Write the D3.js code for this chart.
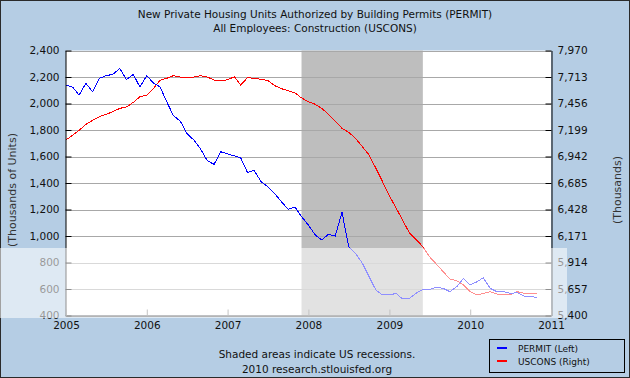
<!DOCTYPE html>
<html>
<head>
<meta charset="utf-8">
<script src="https://cdn.jsdelivr.net/npm/d3@7"></script>
<style>
  body { margin: 0; }
  svg { display: block; font-family: "DejaVu Sans", Verdana, sans-serif; }
</style>
</head>
<body>
<div id="chart"></div>
<script>
// chart size
const width = 630;
const height = 378;

// monthly series, starting Jan 2005
const startMonth = new Date(2005, 0, 1);

// PERMIT, thousands of units (left axis)
const permit = [
  2140, 2122, 2064, 2152, 2089, 2190, 2210, 2220, 2265, 2180, 2220, 2124,
  2210, 2152, 2127, 2014, 1908, 1868, 1775, 1725, 1657, 1568, 1541, 1636,
  1619, 1604, 1591, 1478, 1496, 1410, 1372, 1322, 1259, 1202, 1219, 1146,
  1083, 1008, 970, 1013, 1000, 1179, 919, 869, 794, 693, 592, 555,
  555, 567, 525, 530, 567, 597, 597, 613, 605, 580, 617, 678,
  630, 655, 685, 605, 580, 580, 567, 572, 547, 547, 530
];

// USCONS, thousands (right axis)
const uscons = [
  7102, 7151, 7196, 7254, 7293, 7328, 7351, 7377, 7409, 7422, 7467, 7522,
  7538, 7603, 7681, 7700, 7726, 7713, 7707, 7713, 7726, 7713, 7684, 7674,
  7687, 7716, 7635, 7707, 7700, 7690, 7680, 7630, 7600, 7580, 7560, 7510,
  7474, 7448, 7409, 7351, 7286, 7215, 7177, 7118, 7037, 6957, 6827, 6698,
  6560, 6440, 6326, 6203, 6139, 6067, 5970, 5899, 5825, 5754, 5738, 5696,
  5631, 5599, 5615, 5631, 5609, 5599, 5599, 5631, 5615, 5615, 5615
];

const leftTicks = [400, 600, 800, 1000, 1200, 1400, 1600, 1800, 2000, 2200, 2400];
const rightTicks = [5400, 5657, 5914, 6171, 6428, 6685, 6942, 7199, 7456, 7713, 7970];
const yearTicks = [2005, 2006, 2007, 2008, 2009, 2010, 2011];
const recession = [new Date(2007, 11, 1), new Date(2009, 5, 1)];

const titleLines = [
  "New Private Housing Units Authorized by Building Permits (PERMIT)",
  "All Employees: Construction (USCONS)"
];
const noteLines = ["Shaded areas indicate US recessions.", "2010 research.stlouisfed.org"];
const legendItems = [
  { label: "PERMIT (Left)", color: "#0000ff" },
  { label: "USCONS (Right)", color: "#ff0000" }
];

const monthDate = i => new Date(startMonth.getFullYear(), startMonth.getMonth() + i, 1);

// plot area
const plotLeft = 66, plotRight = 551, plotTop = 50.5, plotBottom = 315.5;

const x = d3.scaleTime()
    .domain([new Date(2005, 0, 1), new Date(2011, 0, 1)])
    .range([plotLeft, plotRight]);

const yLeft = d3.scaleLinear().domain([400, 2400]).range([plotBottom, plotTop]);
const yRight = d3.scaleLinear().domain([5400, 7970]).range([plotBottom, plotTop]);

const svg = d3.select("#chart")
    .append("svg").attr("width", width).attr("height", height);

// blue background + frame
svg.append("rect")
    .attr("x", 0.5).attr("y", 0.5)
    .attr("width", width - 1).attr("height", height - 1)
    .attr("fill", "#b5cde4")
    .attr("stroke", "#2a2a2a");

// plot area
svg.append("rect")
    .attr("x", plotLeft).attr("y", plotTop)
    .attr("width", plotRight - plotLeft).attr("height", plotBottom - plotTop)
    .attr("fill", "white");

// recession shade
svg.append("rect")
    .attr("x", x(recession[0]))
    .attr("y", plotTop)
    .attr("width", x(recession[1]) - x(recession[0]))
    .attr("height", plotBottom - plotTop)
    .attr("fill", "#bebebe");

// horizontal grid
svg.append("g")
    .selectAll("line")
    .data(leftTicks)
    .join("line")
    .attr("x1", plotLeft).attr("x2", plotRight)
    .attr("y1", d => Math.round(yLeft(d)) + 0.5)
    .attr("y2", d => Math.round(yLeft(d)) + 0.5)
    .attr("stroke", "#a8a8a8")
    .attr("shape-rendering", "crispEdges");

// series lines
const permitLine = d3.line()
    .x((d, i) => x(monthDate(i)))
    .y(d => yLeft(d));

const usconsLine = d3.line()
    .x((d, i) => x(monthDate(i)))
    .y(d => yRight(d));

svg.append("path")
    .attr("d", usconsLine(uscons))
    .attr("fill", "none")
    .attr("stroke", "#ff0000")
    .attr("stroke-width", 1)
    .attr("shape-rendering", "crispEdges");

svg.append("path")
    .attr("d", permitLine(permit))
    .attr("fill", "none")
    .attr("stroke", "#0000ff")
    .attr("stroke-width", 1)
    .attr("shape-rendering", "crispEdges");

// left axis
const leftAxis = svg.append("g")
    .attr("transform", `translate(${plotLeft - 0.5},0)`)
    .call(d3.axisLeft(yLeft).tickValues(leftTicks).tickFormat(d3.format(",")).tickSizeInner(-6).tickSizeOuter(0).tickPadding(6));

// right axis
const rightAxis = svg.append("g")
    .attr("transform", `translate(${plotRight + 0.5},0)`)
    .call(d3.axisRight(yRight).tickValues(rightTicks).tickFormat(d3.format(",")).tickSizeInner(-6).tickSizeOuter(0).tickPadding(6));

// bottom axis
const bottomAxis = svg.append("g")
    .attr("transform", `translate(0,${plotBottom})`)
    .call(d3.axisBottom(x).tickValues(yearTicks.map(y => new Date(y, 0, 1)))
        .tickFormat(d3.timeFormat("%Y")).tickSizeInner(-6).tickSizeOuter(0).tickPadding(6));

[leftAxis, rightAxis, bottomAxis].forEach(g => {
  g.select(".domain").attr("stroke", "black");
  g.selectAll(".tick line").attr("stroke", "black");
  g.selectAll("text")
      .attr("font-family", "\"DejaVu Sans\", Verdana, sans-serif")
      .attr("font-size", "10.5px")
      .attr("fill", "#111");
});
bottomAxis.selectAll(".tick line").attr("stroke", "#777");

// translucent white band (photo overlay in the source image)
svg.append("rect")
    .attr("x", 0).attr("y", 248)
    .attr("width", 567).attr("height", 70)
    .attr("fill", "white")
    .attr("opacity", 0.56);

// titles
svg.append("g")
    .selectAll("text")
    .data(titleLines)
    .join("text")
    .attr("x", 315)
    .attr("y", (d, i) => 18 + i * 14)
    .attr("text-anchor", "middle")
    .attr("font-size", "10.5px")
    .attr("fill", "#111")
    .text(d => d);

// axis titles
svg.append("text")
    .attr("transform", "translate(16,190) rotate(-90)")
    .attr("text-anchor", "middle")
    .attr("font-size", "11px")
    .attr("fill", "#333")
    .text("(Thousands of Units)");

svg.append("text")
    .attr("transform", "translate(621,190) rotate(-90)")
    .attr("text-anchor", "middle")
    .attr("font-size", "11px")
    .attr("fill", "#333")
    .text("(Thousands)");

// notes
svg.append("g")
    .selectAll("text")
    .data(noteLines)
    .join("text")
    .attr("x", 317)
    .attr("y", (d, i) => 358 + i * 15)
    .attr("text-anchor", "middle")
    .attr("font-size", "10.5px")
    .attr("fill", "#111")
    .text(d => d);

// legend
svg.append("rect")
    .attr("x", 489.5).attr("y", 339.5)
    .attr("width", 135).attr("height", 33)
    .attr("fill", "#b5cde4")
    .attr("stroke", "black");

const legend = svg.append("g")
    .selectAll("g")
    .data(legendItems)
    .join("g")
    .attr("transform", (d, i) => `translate(0,${348 + i * 13})`);

legend.append("line")
    .attr("x1", 497).attr("x2", 507)
    .attr("y1", 0).attr("y2", 0)
    .attr("stroke", d => d.color)
    .attr("stroke-width", 2);

legend.append("text")
    .attr("x", 518).attr("y", 4)
    .attr("font-size", "9px")
    .attr("fill", "#111")
    .text(d => d.label);
</script>
</body>
</html>
